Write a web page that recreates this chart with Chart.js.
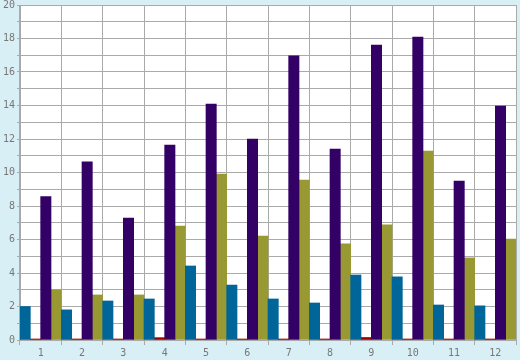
<!DOCTYPE html>
<html>
<head>
<meta charset="utf-8">
<script src="https://cdn.jsdelivr.net/npm/chart.js@4/dist/chart.umd.min.js"></script>
<style>
  html, body { margin: 0; padding: 0; background: #d9eff6; }
  #wrap { width: 520px; height: 360px; position: relative; }
</style>
</head>
<body>
<div id="wrap"><canvas id="c" width="520" height="360"></canvas></div>
<script>
const categories = ['1','2','3','4','5','6','7','8','9','10','11','12'];
const blueSeries   = [2.0, 1.8, 2.33, 2.45, 4.42, 3.28, 2.45, 2.21, 3.88, 3.77, 2.09, 2.04];
const redSeries    = [0.06, 0.06, 0.06, 0.14, 0.06, 0.06, 0.06, 0.06, 0.15, 0.06, 0.06, 0.06];
const purpleSeries = [8.56, 10.63, 7.28, 11.64, 14.09, 12.0, 16.96, 11.4, 17.61, 18.09, 9.49, 13.97];
const oliveSeries  = [2.99, 2.69, 2.69, 6.8, 9.91, 6.21, 9.55, 5.74, 6.87, 11.28, 4.9, 6.02];
const yMin = 0, yMax = 20, yStep = 1;

const plotBg = {
  id: 'plotBg',
  beforeDraw(chart) {
    const {ctx, chartArea: a} = chart;
    ctx.save();
    ctx.fillStyle = '#d9eff6';
    ctx.fillRect(0, 0, chart.width, chart.height);
    ctx.fillStyle = '#ffffff';
    ctx.fillRect(a.left, a.top, a.right - a.left, a.bottom - a.top);
    ctx.restore();
  }
};

const font = { family: '"DejaVu Sans Mono", monospace', size: 10 };

new Chart(document.getElementById('c'), {
  type: 'bar',
  data: {
    labels: categories,
    datasets: [
      { data: blueSeries, backgroundColor: '#006699' },
      { data: redSeries, backgroundColor: '#990000' },
      { data: purpleSeries, backgroundColor: '#330066' },
      { data: oliveSeries, backgroundColor: '#999933' }
    ]
  },
  options: {
    responsive: false,
    animation: false,
    devicePixelRatio: 1,
    layout: { padding: { top: 5, right: 4, left: 0, bottom: 0 } },
    plugins: { legend: { display: false }, tooltip: { enabled: false } },
    datasets: { bar: { categoryPercentage: 1, barPercentage: 1, borderWidth: 0 } },
    scales: {
      x: {
        grid: { color: '#aaaaaa', lineWidth: 1, tickLength: 5, offset: true },
        border: { color: '#aaaaaa' },
        ticks: { color: '#777777', font: font, padding: 2, maxRotation: 0, autoSkip: false },
        afterFit(scale) { scale.height = 20; scale.paddingLeft = 0; scale.paddingRight = 0; }
      },
      y: {
        min: yMin, max: yMax,
        grid: { color: '#aaaaaa', lineWidth: 1, tickLength: 3 },
        border: { color: '#aaaaaa' },
        ticks: {
          stepSize: yStep, color: '#777777', font: font, padding: 2, autoSkip: false,
          callback: (v) => (v % 2 === 0 ? String(v) : '')
        },
        afterFit(scale) { scale.width = 20; scale.paddingTop = 0; scale.paddingBottom = 0; }
      }
    }
  },
  plugins: [plotBg]
});
</script>
</body>
</html>
